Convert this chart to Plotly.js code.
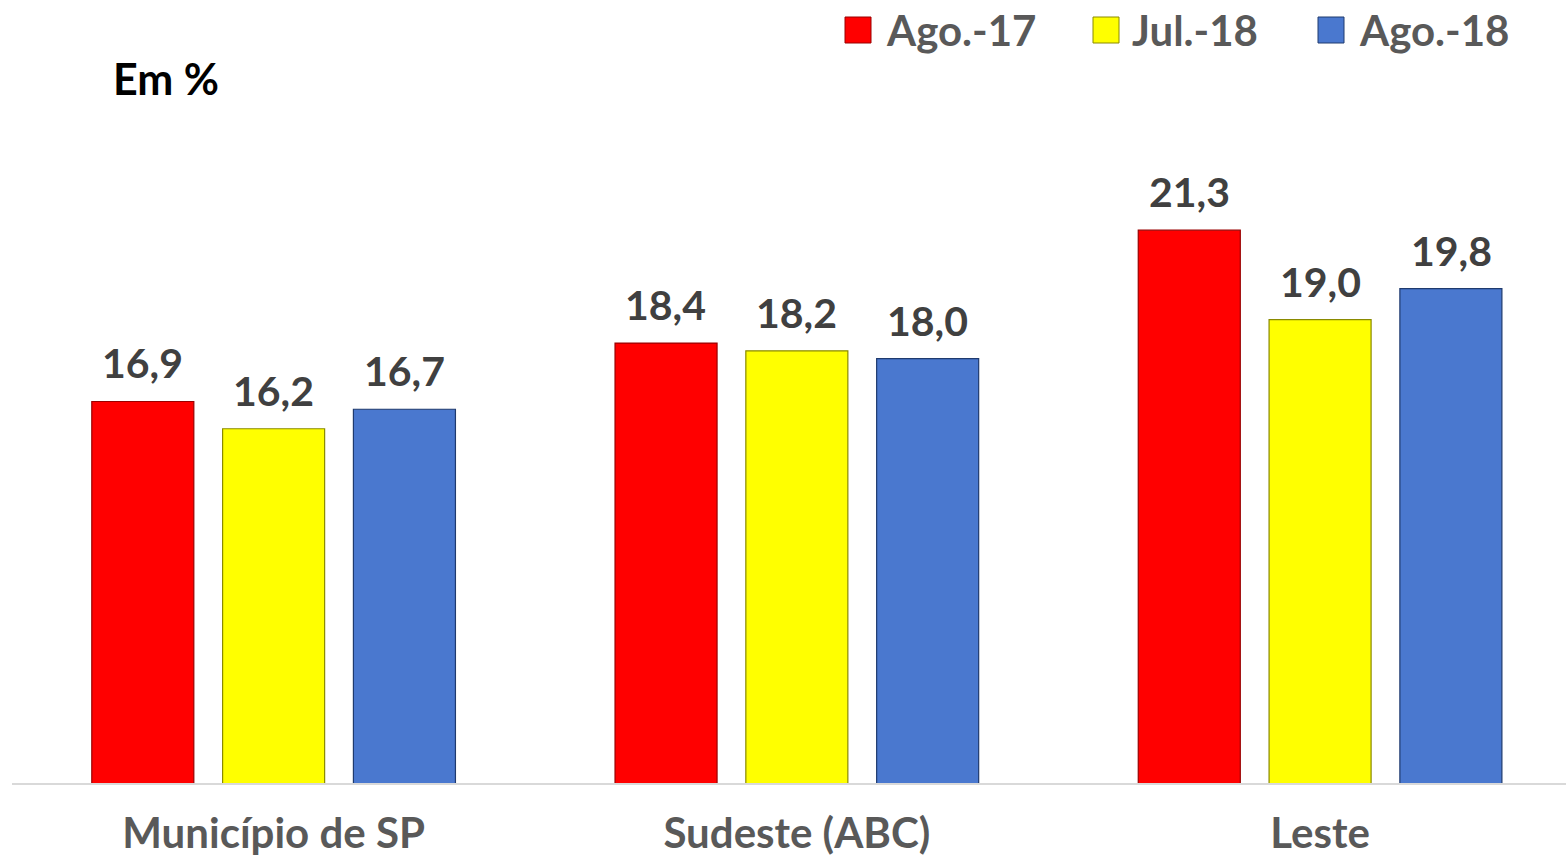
<!DOCTYPE html>
<html>
<head>
<meta charset="utf-8">
<script src="https://cdn.plot.ly/plotly-3.0.1.min.js"></script>
<style>html,body{margin:0;padding:0;background:#fff;}</style>
</head>
<body>
<div id="chart" style="width:1566px;height:863px;"></div>
<script>
const categories = ["Município de SP", "Sudeste (ABC)", "Leste"];
const seriesNames = ["Ago.-17", "Jul.-18", "Ago.-18"];
const ago17 = [16.9, 18.4, 21.3];
const jul18 = [16.2, 18.2, 19.0];
const ago18 = [16.7, 18.0, 19.8];
const seriesValues = [ago17, jul18, ago18];
const colors = ["#FF0000", "#FFFF00", "#4A78CF"];
const edgeColors = ["#9a0000", "#8a8a00", "#1f3a6e"];

const FONT = "Lato, 'Open Sans', sans-serif";
const fmt = v => v.toFixed(1).replace('.', ',');

const traces = seriesValues.map((vals, i) => ({
  type: 'bar',
  name: seriesNames[i],
  x: categories,
  y: vals,
  marker: {color: colors[i], line: {color: edgeColors[i], width: 1.2}},
  showlegend: false,
  hoverinfo: 'x+y+name'
}));

const annotations = [];
// value labels
seriesValues.forEach((vals, i) => {
  vals.forEach((v, j) => {
    annotations.push({
      x: categories[j], y: v, xref: 'x', yref: 'y',
      xshift: (i - 1) * 131, yshift: 12,
      yanchor: 'bottom', xanchor: 'center',
      text: fmt(v), showarrow: false,
      font: {family: FONT, size: 41, color: '#404040', weight: 'bold'}
    });
  });
});
// legend (keys + labels)
const plotL = 12, plotW = 1554, plotB = 783, plotH = 619;
const keyLeft = [845, 1093, 1318];
const textLeft = [884, 1130, 1357];
const shapes = [];
seriesNames.forEach((n, i) => {
  shapes.push({
    type: 'rect', xref: 'paper', yref: 'paper',
    xsizemode: 'pixel', ysizemode: 'pixel',
    xanchor: (keyLeft[i] - plotL) / plotW, yanchor: (plotB - 30) / plotH,
    x0: 0, x1: 26, y0: -13, y1: 13,
    fillcolor: colors[i], line: {color: edgeColors[i], width: 1}
  });
  annotations.push({
    xref: 'paper', yref: 'paper',
    x: (textLeft[i] - plotL) / plotW, y: (plotB - 30) / plotH,
    xanchor: 'left', yanchor: 'middle', showarrow: false,
    text: n,
    font: {family: FONT, size: 42, color: '#595959', weight: 'bold'}
  });
});

const layout = {
  width: 1566, height: 863,
  margin: {l: 12, r: 0, t: 164, b: 80},
  paper_bgcolor: '#fff', plot_bgcolor: '#fff',
  barmode: 'group', bargap: 0.25, bargroupgap: 0.22,
  title: {
    text: '<b>Em %</b>', x: 113/1566, xanchor: 'left', xref: 'container',
    y: 1 - 80/863, yanchor: 'middle', yref: 'container',
    font: {family: FONT, size: 43, color: '#000'}
  },
  xaxis: {
    type: 'category', range: [-0.5, 2.47],
    showline: true, linecolor: '#d9d9d9', linewidth: 1.5,
    ticks: '', showgrid: false, zeroline: false,
    tickfont: {family: FONT, size: 42, color: '#595959', weight: 'bold'},
    ticklabelstandoff: 13
  },
  yaxis: {
    range: [7.1, 23], visible: false, showgrid: false, zeroline: false
  },
  shapes: shapes,
  annotations: annotations,
  showlegend: false
};

Plotly.newPlot('chart', traces, layout, {displayModeBar: false, staticPlot: true});
</script>
</body>
</html>
